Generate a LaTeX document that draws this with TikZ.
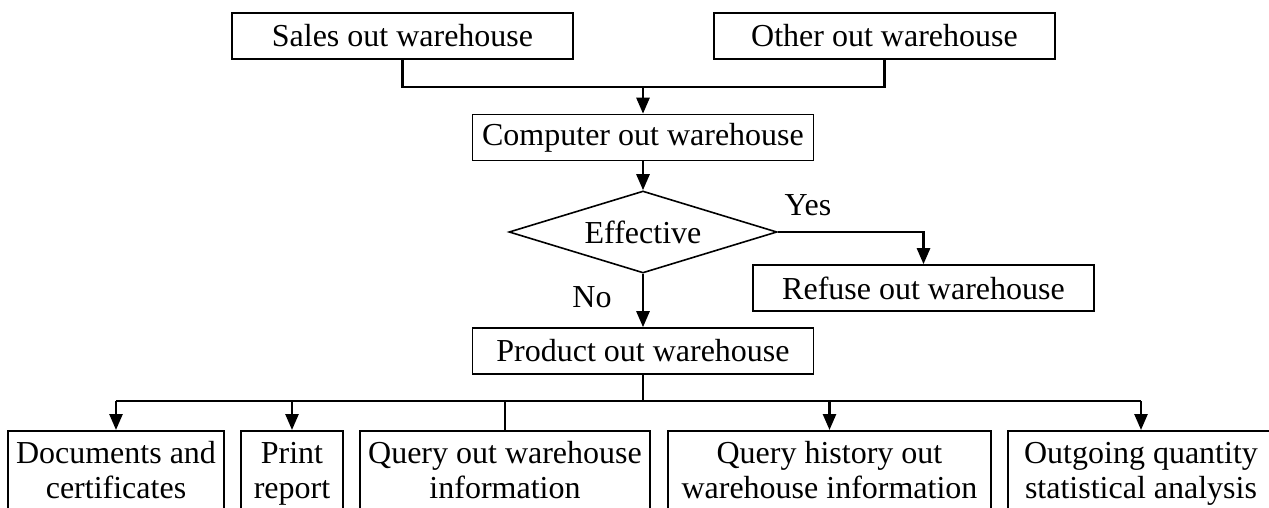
\documentclass[tikz,border=0pt]{standalone}
\usepackage{fontspec}
\setmainfont{Liberation Serif}
\usetikzlibrary{arrows.meta,shapes.geometric}

\begin{document}
\begin{tikzpicture}[x=0.5pt, y=-0.5pt,
  every node/.style={font=\fontsize{16pt}{17.5pt}\selectfont, inner sep=0pt},
  box/.style={draw, line width=0.8pt, minimum width=170.5pt, minimum height=23pt},
  lowbox/.style={draw, line width=0.8pt, anchor=north, align=center, text height=34pt, text depth=9pt},
  link/.style={line width=1.3pt},
  arrow/.style={link, -{Triangle[length=8pt,width=6.5pt]}}]
  \useasboundingbox (0,0) rectangle (1269,508);
  \clip (0,0) rectangle (1269,508);
  % upper part
  \node[box] (sales) at (402.5,36) {Sales out warehouse};
  \node[box] (other) at (884.5,36) {Other out warehouse};
  \node[box] (computer) at (643,137.5) {Computer out warehouse};
  \node[draw, diamond, line width=0.8pt, aspect=3.27, minimum width=134pt, minimum height=41pt]
    (effective) at (643,232) {Effective};
  \node[box] (refuse) at (923.5,288) {Refuse out warehouse};
  \node[box] (product) at (643,351) {Product out warehouse};
  \node (yes) at (808,205) {Yes};
  \node (no) at (592,297) {No};
  % lower row
  \node[lowbox, minimum width=108pt] (docs) at (116,430) {Documents and\\certificates};
  \node[lowbox, minimum width=51pt] (print) at (292,430) {Print\\report};
  \node[lowbox, minimum width=145pt] (query) at (505,430) {Query out warehouse\\information};
  \node[lowbox, minimum width=161.5pt] (history) at (829.5,430) {Query history out\\warehouse information};
  \node[lowbox, minimum width=133pt] (outgo) at (1141,430) {Outgoing quantity\\statistical analysis};
  \coordinate (topjoin) at (643,87);
  \coordinate (lowjoin) at (643,401);

  \draw[link] (sales.south) |- (topjoin);
  \draw[link] (other.south) |- (topjoin);
  \draw[arrow] (topjoin) -- (computer.north);
  \draw[arrow] (computer.south) -- (effective.north);
  \draw[arrow] (effective.east) -| (refuse.north);
  \draw[arrow] (effective.south) -- (product.north);
  \draw[link] (product.south) -- (lowjoin);
  \draw[link] (docs.north |- lowjoin) -- (outgo.north |- lowjoin);
  \foreach \n in {docs,print,history,outgo}
    \draw[arrow] (\n.north |- lowjoin) -- (\n.north);
  \draw[line width=0.6pt] (query.north |- lowjoin) -- (query.north);
\end{tikzpicture}
\end{document}
